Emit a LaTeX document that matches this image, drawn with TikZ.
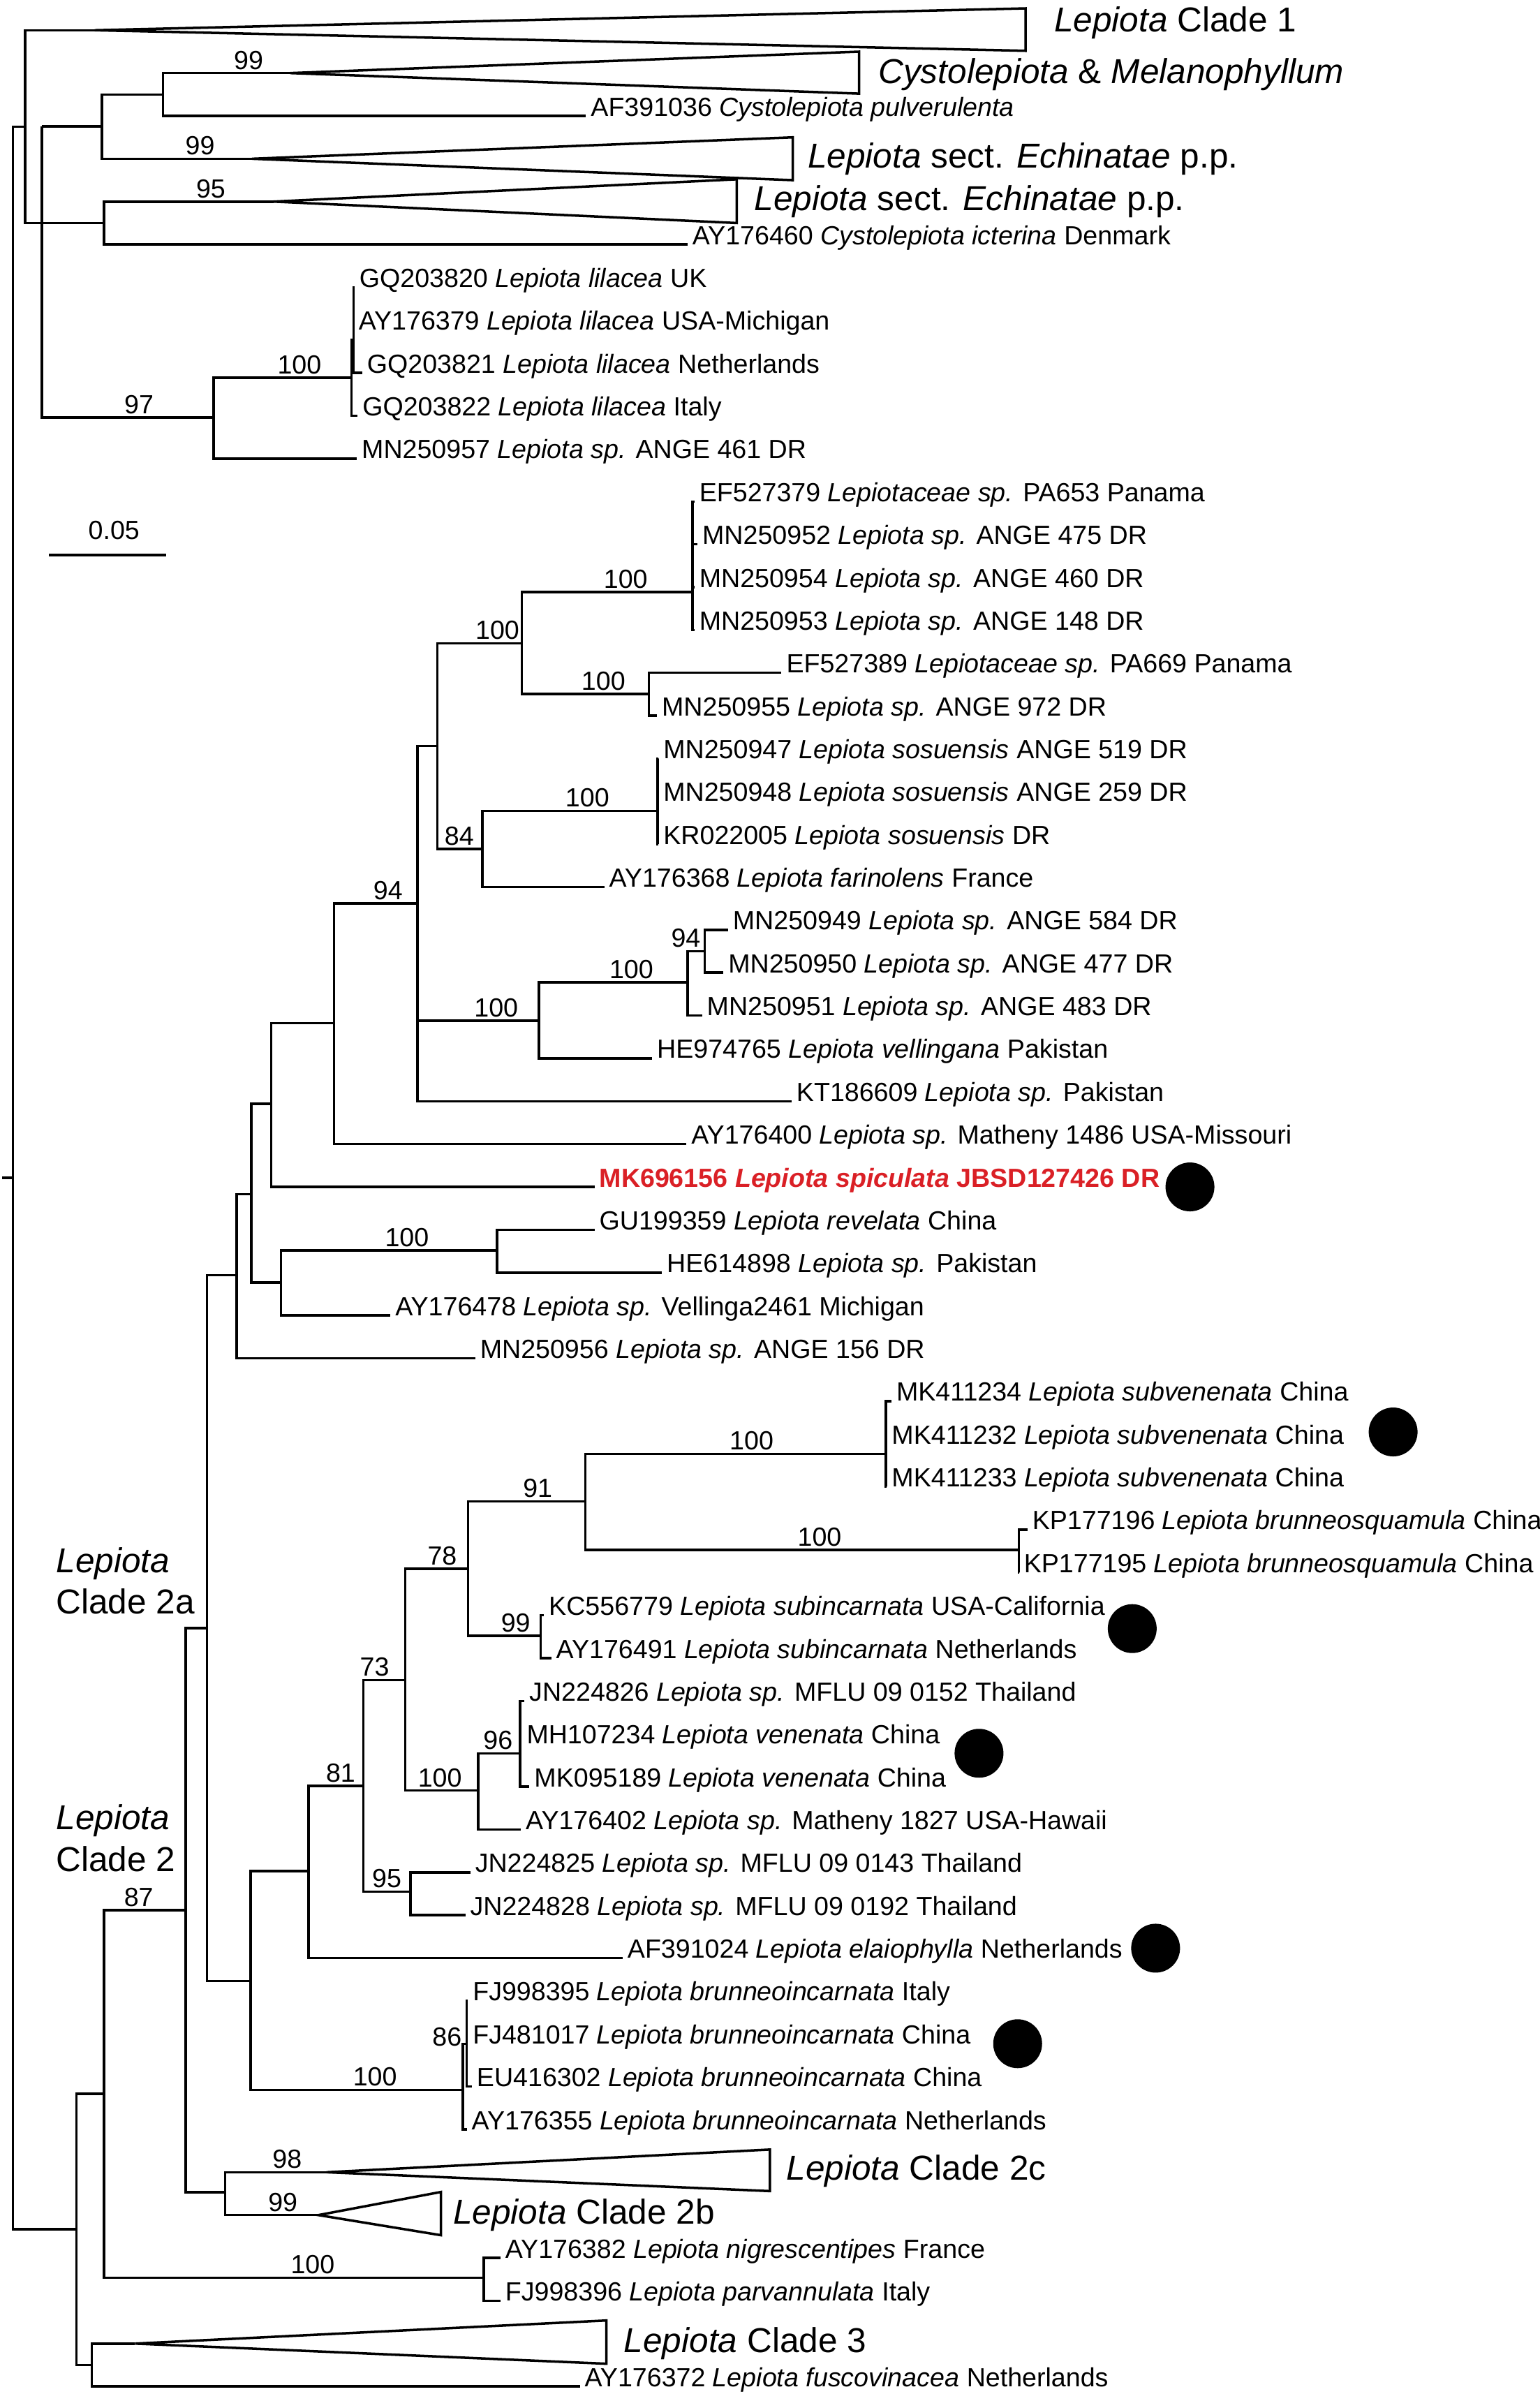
\documentclass[tikz,border=0pt]{standalone}
\usepackage{fontspec}
\setmainfont{Liberation Sans}
\definecolor{spred}{RGB}{218,32,38}
\tikzset{
    leaf/.style={anchor=base west, inner xsep=1.5pt, inner ysep=0pt, font=\fontsize{10.7}{12}\selectfont},
    boot/.style={anchor=base, inner sep=0pt, yshift=1.6pt, font=\fontsize{10.7}{12}\selectfont},
    clade/.style={anchor=base west, inner sep=0pt, font=\fontsize{14.1}{16}\selectfont},
    dot/.style={circle, fill=black, inner sep=0pt, minimum size=0.7cm},
}

\begin{document}
\begin{tikzpicture}[x=0.021875cm, y=-0.613594cm, line width=1pt]
        \useasboundingbox (0,-0.70588) rectangle (1008,55.177);

        \coordinate (Rt) at (1.5, 26.79);
        \coordinate (R) at (8.4, 26.79);
        \coordinate (N1) at (16.5, 2.25);
        \coordinate (N2) at (27.4, 2.24);
        \coordinate (C) at (66.7, 2.24);
        \coordinate (Cy) at (106.8, 1.5);
        \coordinate (E2) at (68, 4.5);
        \coordinate (L) at (139.9, 9.04);
        \coordinate (L2) at (230, 8.11);
        \coordinate (S) at (231.5, 7.22);
        \coordinate (B) at (50, 51.33);
        \coordinate (P) at (68.2, 48.17);
        \coordinate (Q) at (60.1, 54.5);
        \coordinate (NP) at (316.7, 52.46);
        \coordinate (Cl2) at (121.5, 43.88);
        \coordinate (T) at (147.3, 50.47);
        \coordinate (A2) at (135.5, 37.3);
        \coordinate (K) at (155, 29.06);
        \coordinate (K1) at (164.6, 27.17);
        \coordinate (K2) at (177.5, 25.06);
        \coordinate (K3) at (183.9, 29.23);
        \coordinate (K4) at (325.4, 28.48);
        \coordinate (K5) at (218.6, 23.18);
        \coordinate (K6) at (273.3, 20.38);
        \coordinate (K7) at (286.2, 16.71);
        \coordinate (K8) at (352.7, 23.12);
        \coordinate (K9) at (341.5, 14.31);
        \coordinate (K10) at (315.8, 19.11);
        \coordinate (K11) at (453.4, 13.11);
        \coordinate (K12) at (424.8, 15.49);
        \coordinate (K13) at (430.5, 18.22);
        \coordinate (K14) at (450.2, 22.22);
        \coordinate (K15) at (461.4, 21.5);
        \coordinate (M) at (164, 45.54);
        \coordinate (M1) at (201.9, 42.97);
        \coordinate (M2) at (302.9, 48.08);
        \coordinate (M3) at (237.9, 40.98);
        \coordinate (M4) at (265.3, 38.51);
        \coordinate (M5) at (268.7, 43.45);
        \coordinate (M6) at (306.4, 35.91);
        \coordinate (M7) at (313, 41.09);
        \coordinate (M8) at (383.3, 34.34);
        \coordinate (M9) at (354, 37.48);
        \coordinate (M10) at (580, 33.23);
        \coordinate (M11) at (666.9, 35.47);
        \coordinate (M12) at (340.5, 40.22);
        \coordinate (M13) at (305.5, 47);

        \coordinate (c1) at (62, 0);
        \coordinate (cm) at (190, 1);
        \coordinate (ce1) at (165, 3);
        \coordinate (ce2) at (179, 4);
        \coordinate (c2c) at (213.8, 50);
        \coordinate (c2b) at (208.4, 51);
        \coordinate (c3) at (88.4, 54);

        \node[leaf] (l02) at (383.6, 2) {AF391036 \textit{Cystolepiota pulverulenta}};
        \node[leaf] (l05) at (450.1, 5) {AY176460 \textit{Cystolepiota icterina} Denmark};
        \node[leaf] (l06) at (232.1, 6) {GQ203820 \textit{Lepiota lilacea} UK};
        \node[leaf] (l07) at (231.6, 7) {AY176379 \textit{Lepiota lilacea} USA-Michigan};
        \node[leaf] (l08) at (237.1, 8) {GQ203821 \textit{Lepiota lilacea} Netherlands};
        \node[leaf] (l09) at (234.1, 9) {GQ203822 \textit{Lepiota lilacea} Italy};
        \node[leaf] (l10) at (233.6, 10) {MN250957 \textit{Lepiota sp.} ANGE 461 DR};
        \node[leaf] (l11) at (454.6, 11) {EF527379 \textit{Lepiotaceae sp.} PA653 Panama};
        \node[leaf] (l12) at (456.6, 12) {MN250952 \textit{Lepiota sp.} ANGE 475 DR};
        \node[leaf] (l13) at (454.6, 13) {MN250954 \textit{Lepiota sp.} ANGE 460 DR};
        \node[leaf] (l14) at (454.6, 14) {MN250953 \textit{Lepiota sp.} ANGE 148 DR};
        \node[leaf] (l15) at (511.6, 15) {EF527389 \textit{Lepiotaceae sp.} PA669 Panama};
        \node[leaf] (l16) at (430.1, 16) {MN250955 \textit{Lepiota sp.} ANGE 972 DR};
        \node[leaf] (l17) at (431.1, 17) {MN250947 \textit{Lepiota sosuensis} ANGE 519 DR};
        \node[leaf] (l18) at (431.1, 18) {MN250948 \textit{Lepiota sosuensis} ANGE 259 DR};
        \node[leaf] (l19) at (431.1, 19) {KR022005 \textit{Lepiota sosuensis} DR};
        \node[leaf] (l20) at (395.6, 20) {AY176368 \textit{Lepiota farinolens} France};
        \node[leaf] (l21) at (476.6, 21) {MN250949 \textit{Lepiota sp.} ANGE 584 DR};
        \node[leaf] (l22) at (473.6, 22) {MN250950 \textit{Lepiota sp.} ANGE 477 DR};
        \node[leaf] (l23) at (459.6, 23) {MN250951 \textit{Lepiota sp.} ANGE 483 DR};
        \node[leaf] (l24) at (426.9, 24) {HE974765 \textit{Lepiota vellingana} Pakistan};
        \node[leaf] (l25) at (518.2, 25) {KT186609 \textit{Lepiota sp.} Pakistan};
        \node[leaf] (l26) at (449.4, 26) {AY176400 \textit{Lepiota sp.} Matheny 1486 USA-Missouri};
        \node[leaf, text=spred] (l27) at (389.2, 27) {\textbf{MK696156 \textit{Lepiota spiculata} JBSD127426 DR}};
        \node[leaf] (l28) at (389.2, 28) {GU199359 \textit{Lepiota revelata} China};
        \node[leaf] (l29) at (433.3, 29) {HE614898 \textit{Lepiota sp.} Pakistan};
        \node[leaf] (l30) at (255.6, 30) {AY176478 \textit{Lepiota sp.} Vellinga2461 Michigan};
        \node[leaf] (l31) at (311.1, 31) {MN250956 \textit{Lepiota sp.} ANGE 156 DR};
        \node[leaf] (l32) at (583.6, 32) {MK411234 \textit{Lepiota subvenenata} China};
        \node[leaf] (l33) at (580.6, 33) {MK411232 \textit{Lepiota subvenenata} China};
        \node[leaf] (l34) at (580.6, 34) {MK411233 \textit{Lepiota subvenenata} China};
        \node[leaf] (l35) at (672.6, 35) {KP177196 \textit{Lepiota brunneosquamula} China};
        \node[leaf] (l36) at (667.1, 36) {KP177195 \textit{Lepiota brunneosquamula} China};
        \node[leaf] (l37) at (356.1, 37) {KC556779 \textit{Lepiota subincarnata} USA-California};
        \node[leaf] (l38) at (360.9, 38) {AY176491 \textit{Lepiota subincarnata} Netherlands};
        \node[leaf] (l39) at (343.3, 39) {JN224826 \textit{Lepiota sp.} MFLU 09 0152 Thailand};
        \node[leaf] (l40) at (341.6, 40) {MH107234 \textit{Lepiota venenata} China};
        \node[leaf] (l41) at (346.6, 41) {MK095189 \textit{Lepiota venenata} China};
        \node[leaf] (l42) at (341, 42) {AY176402 \textit{Lepiota sp.} Matheny 1827 USA-Hawaii};
        \node[leaf] (l43) at (307.9, 43) {JN224825 \textit{Lepiota sp.} MFLU 09 0143 Thailand};
        \node[leaf] (l44) at (304.6, 44) {JN224828 \textit{Lepiota sp.} MFLU 09 0192 Thailand};
        \node[leaf] (l45) at (407.6, 45) {AF391024 \textit{Lepiota elaiophylla} Netherlands};
        \node[leaf] (l46) at (306.3, 46) {FJ998395 \textit{Lepiota brunneoincarnata} Italy};
        \node[leaf] (l47) at (306.3, 47) {FJ481017 \textit{Lepiota brunneoincarnata} China};
        \node[leaf] (l48) at (308.9, 48) {EU416302 \textit{Lepiota brunneoincarnata} China};
        \node[leaf] (l49) at (305.6, 49) {AY176355 \textit{Lepiota brunneoincarnata} Netherlands};
        \node[leaf] (l52) at (327.6, 52) {AY176382 \textit{Lepiota nigrescentipes} France};
        \node[leaf] (l53) at (327.6, 53) {FJ998396 \textit{Lepiota parvannulata} Italy};
        \node[leaf] (l55) at (379.6, 55) {AY176372 \textit{Lepiota fuscovinacea} Netherlands};

        \node[clade] (t1) at (689.4, 0.03) {\textit{Lepiota} Clade 1};
        \node[clade] (tm) at (574.3, 1.24) {\textit{Cystolepiota} \& \textit{Melanophyllum}};
        \node[clade] (te1) at (528, 3.22) {\textit{Lepiota} sect. \textit{Echinatae} p.p.};
        \node[clade] (te2) at (493, 4.21) {\textit{Lepiota} sect. \textit{Echinatae} p.p.};
        \node[clade] (t2c) at (514, 50.18) {\textit{Lepiota} Clade 2c};
        \node[clade] (t2b) at (295.8, 51.21) {\textit{Lepiota} Clade 2b};
        \node[clade] (t3) at (407.7, 54.2) {\textit{Lepiota} Clade 3};
        \node[clade] (s2a) at (36, 36.0) {\textit{Lepiota}};
        \node[clade] (s2ab) at (36, 36.97) {Clade 2a};
        \node[clade] (s2) at (36, 42.0) {\textit{Lepiota}};
        \node[clade] (s2b) at (36, 42.98) {Clade 2};

        \draw (c1) -- (671.4, -0.51) -- (671.4, 0.48) -- cycle;
        \draw (cm) -- (562.4, 0.5) -- (562.4, 1.48) -- cycle;
        \draw (ce1) -- (519, 2.5) -- (519, 3.5) -- cycle;
        \draw (ce2) -- (482.3, 3.48) -- (482.3, 4.5) -- cycle;
        \draw (c2c) -- (504, 49.47) -- (504, 50.44) -- cycle;
        \draw (c2b) -- (288.7, 50.46) -- (288.7, 51.47) -- cycle;
        \draw (c3) -- (397, 53.46) -- (397, 54.47) -- cycle;

        \draw (Rt) -- (R);
        \draw (R) |- (N1);
        \draw (R) |- (B);
        \draw (N1) |- (c1);
        \draw (N1) |- (E2);
        \draw (E2) |- (ce2);
        \draw (E2) |- (l05.base west);
        \draw (N2) |- (C);
        \draw (N2) |- (L);
        \draw (C) |- (Cy);
        \draw (C) |- (ce1);
        \draw (Cy) |- (cm);
        \draw (Cy) |- (l02.base west);
        \draw (L) |- (L2);
        \draw (L) |- (l10.base west);
        \draw (L2) |- (S);
        \draw (L2) |- (l09.base west);
        \draw (S) |- (l06.base west);
        \draw (S) |- (l07.base west);
        \draw (S) |- (l08.base west);

        \draw (B) |- (P);
        \draw (B) |- (Q);
        \draw (Q) |- (c3);
        \draw (Q) |- (l55.base west);
        \draw (P) |- (Cl2);
        \draw (P) |- (NP);
        \draw (NP) |- (l52.base west);
        \draw (NP) |- (l53.base west);
        \draw (Cl2) |- (A2);
        \draw (Cl2) |- (T);
        \draw (T) |- (c2c);
        \draw (T) |- (c2b);
        \draw (A2) |- (K);
        \draw (A2) |- (M);

        \draw (K) |- (K1);
        \draw (K) |- (l31.base west);
        \draw (K1) |- (K2);
        \draw (K1) |- (K3);
        \draw (K3) |- (K4);
        \draw (K3) |- (l30.base west);
        \draw (K4) |- (l28.base west);
        \draw (K4) |- (l29.base west);
        \draw (K2) |- (K5);
        \draw (K2) |- (l27.base west);
        \draw (K5) |- (K6);
        \draw (K5) |- (l26.base west);
        \draw (K6) |- (K7);
        \draw (K6) |- (K8);
        \draw (K6) |- (l25.base west);
        \draw (K7) |- (K9);
        \draw (K7) |- (K10);
        \draw (K9) |- (K11);
        \draw (K9) |- (K12);
        \draw (K11) |- (l11.base west);
        \draw (K11) |- (l12.base west);
        \draw (K11) |- (l13.base west);
        \draw (K11) |- (l14.base west);
        \draw (K12) |- (l15.base west);
        \draw (K12) |- (l16.base west);
        \draw (K10) |- (K13);
        \draw (K10) |- (l20.base west);
        \draw (K13) |- (l17.base west);
        \draw (K13) |- (l18.base west);
        \draw (K13) |- (l19.base west);
        \draw (K8) |- (K14);
        \draw (K8) |- (l24.base west);
        \draw (K14) |- (K15);
        \draw (K14) |- (l23.base west);
        \draw (K15) |- (l21.base west);
        \draw (K15) |- (l22.base west);

        \draw (M) |- (M1);
        \draw (M) |- (M2);
        \draw (M1) |- (M3);
        \draw (M1) |- (l45.base west);
        \draw (M3) |- (M4);
        \draw (M3) |- (M5);
        \draw (M5) |- (l43.base west);
        \draw (M5) |- (l44.base west);
        \draw (M4) |- (M6);
        \draw (M4) |- (M7);
        \draw (M6) |- (M8);
        \draw (M6) |- (M9);
        \draw (M9) |- (l37.base west);
        \draw (M9) |- (l38.base west);
        \draw (M8) |- (M10);
        \draw (M8) |- (M11);
        \draw (M10) |- (l32.base west);
        \draw (M10) |- (l33.base west);
        \draw (M10) |- (l34.base west);
        \draw (M11) |- (l35.base west);
        \draw (M11) |- (l36.base west);
        \draw (M7) |- (M12);
        \draw (M7) |- (l42.base west);
        \draw (M12) |- (l39.base west);
        \draw (M12) |- (l40.base west);
        \draw (M12) |- (l41.base west);
        \draw (M2) |- (M13);
        \draw (M2) |- (l49.base west);
        \draw (M13) |- (l46.base west);
        \draw (M13) |- (l47.base west);
        \draw (M13) |- (l48.base west);

        \node[boot] (b1) at (162.7, 1) {99};
        \node[boot] (b2) at (131, 3) {99};
        \node[boot] (b3) at (138, 4) {95};
        \node[boot] (b4) at (91, 9.04) {97};
        \node[boot] (b5) at (196, 8.11) {100};
        \node[boot] (b6) at (254, 20.38) {94};
        \node[boot] (b7) at (325.6, 14.31) {100};
        \node[boot] (b8) at (409.6, 13.11) {100};
        \node[boot] (b9) at (395, 15.49) {100};
        \node[boot] (b10) at (300.6, 19.11) {84};
        \node[boot] (b11) at (384.5, 18.22) {100};
        \node[boot] (b12) at (324.8, 23.12) {100};
        \node[boot] (b13) at (413.3, 22.22) {100};
        \node[boot] (b14) at (449, 21.5) {94};
        \node[boot] (b15) at (266.4, 28.48) {100};
        \node[boot] (b16) at (492, 33.23) {100};
        \node[boot] (b17) at (536.5, 35.47) {100};
        \node[boot] (b18) at (352, 34.34) {91};
        \node[boot] (b19) at (289.5, 35.91) {78};
        \node[boot] (b20) at (337.6, 37.48) {99};
        \node[boot] (b21) at (245.2, 38.51) {73};
        \node[boot] (b22) at (326, 40.22) {96};
        \node[boot] (b23) at (288, 41.09) {100};
        \node[boot] (b24) at (223, 40.98) {81};
        \node[boot] (b25) at (253.2, 43.45) {95};
        \node[boot] (b26) at (90.8, 43.88) {87};
        \node[boot] (b27) at (245.5, 48.08) {100};
        \node[boot, yshift=0pt] (b28) at (292.6, 47.14) {86};
        \node[boot] (b29) at (188, 50) {98};
        \node[boot] (b30) at (185.2, 51) {99};
        \node[boot] (b31) at (204.7, 52.46) {100};

        \coordinate (sb1) at (32.2, 12.25);
        \coordinate (sb2) at (108.7, 12.25);
        \draw (sb1) -- (sb2);
        \node[boot, yshift=0pt] (sbt) at (74.6, 11.98) {0.05};

        \node[dot] (d1) at (779, 27) {};
        \node[dot] (d2) at (912, 32.72) {};
        \node[dot] (d3) at (741.2, 37.31) {};
        \node[dot] (d4) at (640.9, 40.22) {};
        \node[dot] (d5) at (756.5, 44.77) {};
        \node[dot] (d6) at (666.2, 47) {};
    \end{tikzpicture}
\end{document}
